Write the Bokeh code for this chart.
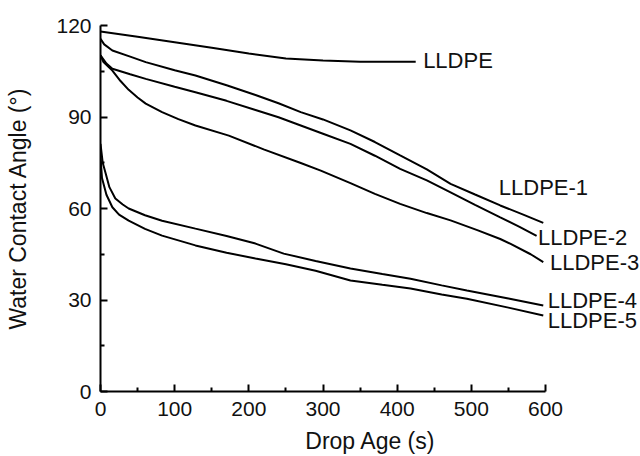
from bokeh.plotting import figure
from bokeh.models import Label, FixedTicker, Range1d
from bokeh.embed import file_html
from bokeh.resources import INLINE

# ---- data ----
t_0 = [0, 50, 100, 150, 200, 250, 300, 350, 425]
v_0 = [118.0, 116.3, 114.5, 112.7, 110.8, 109.2, 108.5, 108.1, 108.1]

t_1 = [0, 5, 16, 40, 61, 100, 128, 170, 209, 240, 270, 300, 337, 370, 404, 440, 472, 505, 539, 570, 597]
v_1 = [115.6, 113.8, 111.8, 109.8, 108.0, 105.3, 103.6, 100.4, 97.2, 94.5, 91.6, 89.2, 85.6, 81.8, 77.4, 72.8, 68.1, 64.6, 61.0, 58.0, 55.3]

t_2 = [0, 8, 16, 40, 61, 100, 128, 170, 209, 240, 270, 300, 337, 370, 404, 440, 472, 505, 539, 565, 588]
v_2 = [110.2, 107.5, 105.8, 104.0, 102.5, 99.9, 98.1, 95.3, 92.3, 89.9, 87.2, 84.5, 81.2, 77.3, 73.0, 69.2, 65.3, 61.2, 57.1, 54.0, 51.0]

t_3 = [0, 4, 16, 27, 38, 50, 61, 83, 105, 128, 173, 220, 270, 297, 337, 370, 404, 440, 472, 508, 539, 553, 580, 597]
v_3 = [110.2, 108.0, 105.2, 101.8, 98.9, 96.4, 94.4, 91.6, 89.3, 87.2, 83.9, 79.4, 74.9, 72.4, 68.3, 64.8, 61.5, 58.5, 56.1, 52.9, 50.0, 48.4, 45.0, 42.4]

t_4 = [0, 3, 7, 12, 20, 30, 38, 60, 83, 128, 170, 209, 247, 290, 337, 380, 418, 460, 494, 550, 597]
v_4 = [81.2, 75.0, 71.5, 67.0, 63.3, 61.3, 60.0, 57.8, 56.0, 53.4, 51.0, 48.5, 45.2, 42.8, 40.3, 38.5, 37.0, 34.8, 33.1, 30.5, 28.2]

t_5 = [0, 2, 8, 16, 25, 38, 60, 83, 128, 170, 209, 250, 290, 337, 380, 418, 460, 494, 550, 597]
v_5 = [77.0, 70.0, 64.5, 60.4, 58.0, 56.0, 53.3, 51.1, 47.9, 45.5, 43.6, 41.7, 39.6, 36.4, 35.0, 33.8, 31.8, 30.4, 27.5, 24.9]

series_names = ["LLDPE", "LLDPE-1", "LLDPE-2", "LLDPE-3", "LLDPE-4", "LLDPE-5"]
x_ticks = [0, 100, 200, 300, 400, 500, 600]
x_minor = [50, 150, 250, 350, 450, 550]
y_ticks = [0, 30, 60, 90, 120]
y_minor = [15, 45, 75, 105]

FONT = "Liberation Sans"

W, H = 640, 456
LEFT, RIGHT_AXIS_PX, TOP, BOTTOM = 100, 545, 25, 391
X_MAX = 600
# extend the frame past 600 so the curve labels are not clipped; axis drawn only to 600
x_end = X_MAX * (W - LEFT) / (RIGHT_AXIS_PX - LEFT)

p = figure(width=W, height=H, x_range=Range1d(0, x_end), y_range=Range1d(0, 120),
           output_backend="svg", toolbar_location=None,
           min_border_left=LEFT, min_border_right=0, min_border_top=TOP,
           min_border_bottom=H - BOTTOM)
p.outline_line_color = None
p.xgrid.visible = False
p.ygrid.visible = False
p.background_fill_color = "white"
p.border_fill_color = "white"

for tt, vv in [(t_0, v_0), (t_1, v_1), (t_2, v_2), (t_3, v_3), (t_4, v_4), (t_5, v_5)]:
    p.line(tt, vv, line_color="black", line_width=2)

p.xaxis.ticker = FixedTicker(ticks=x_ticks, minor_ticks=x_minor)
p.yaxis.ticker = FixedTicker(ticks=y_ticks, minor_ticks=y_minor)
p.xaxis.bounds = (0, X_MAX)

for ax in (p.xaxis, p.yaxis):
    ax.axis_line_width = 2
    ax.axis_line_color = "black"
    ax.major_tick_in = 7
    ax.major_tick_out = 0
    ax.minor_tick_in = 4
    ax.minor_tick_out = 0
    ax.major_tick_line_width = 2
    ax.minor_tick_line_width = 2
    ax.major_tick_line_color = "black"
    ax.minor_tick_line_color = "black"
    ax.major_label_text_font = FONT
    ax.major_label_text_font_size = "21px"
    ax.major_label_text_color = "#111111"
    ax.axis_label_text_font = FONT
    ax.axis_label_text_font_size = "23px"
    ax.axis_label_text_font_style = "normal"
    ax.axis_label_text_color = "#111111"

p.xaxis.axis_label = "Drop Age (s)"
p.yaxis.axis_label = "Water Contact Angle (°)"
p.xaxis.major_label_standoff = 10
p.xaxis.axis_label_standoff = 9
p.yaxis.major_label_standoff = 9
p.yaxis.axis_label_standoff = 22

label_pos = [(435, 108.5), (537, 66.9), (590, 50.5), (606, 42.3), (603, 29.8), (603, 23.3)]
for name, (lx, ly) in zip(series_names, label_pos):
    p.add_layout(Label(x=lx, y=ly, text=name, text_baseline="middle", text_align="left",
                       text_font=FONT, text_font_size="22px", text_color="#111111"))

open("out.html", "w").write(file_html(p, INLINE))
